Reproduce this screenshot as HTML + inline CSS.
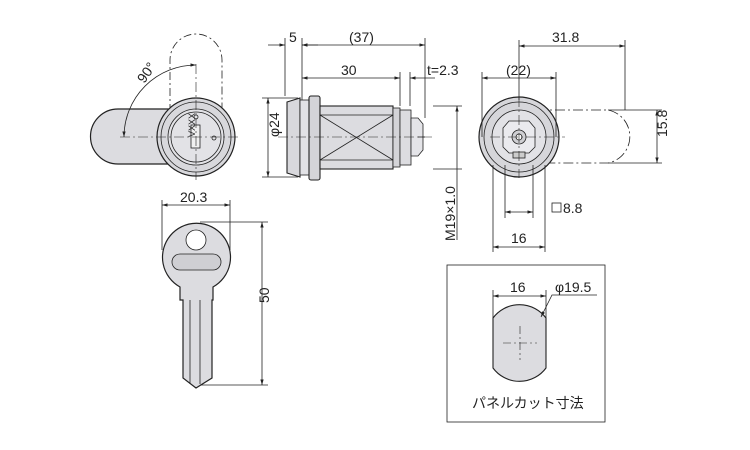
<!DOCTYPE html>
<html><head><meta charset="utf-8"><style>body{margin:0;background:#fff}svg{display:block}text{font-family:"Liberation Sans","Noto Sans CJK JP",sans-serif;fill:#222}</style></head><body>
<svg width="750" height="450" viewBox="0 0 750 450" xmlns="http://www.w3.org/2000/svg">
<defs>
<marker id="a" viewBox="0 0 10 10" refX="10" refY="5" markerWidth="7" markerHeight="7" orient="auto-start-reverse"><path d="M0,2 L10,5 L0,8z" fill="#222"/></marker>
</defs>
<g stroke="#222" fill="none" stroke-width="0.8">
<path d="M170,128 V60 A26,26 0 0 1 222,60 V128" stroke-dasharray="8,3,2,3"/>
<path d="M196,109 H118 A27.5,27.5 0 0 0 118,164 H196" fill="#dcdce0" stroke-width="1.2"/>
<circle cx="196" cy="137" r="39" fill="#d8d8dc" stroke-width="1.2"/>
<circle cx="196" cy="137" r="35"/>
<circle cx="196" cy="137" r="28" fill="#e2e2e6"/>
<circle cx="196" cy="137" r="25"/>
<rect x="191" y="125" width="9" height="23" fill="#f0f0f0"/>
<circle cx="196" cy="117" r="2"/><circle cx="214" cy="138" r="2"/>
<path d="M120,137 H240 M196,64 V180" stroke-dasharray="10,3,2,3" stroke-width="0.6"/>
<path d="M196,65 A72,72 0 0 0 124,137" marker-start="url(#a)" marker-end="url(#a)"/>
<path d="M287,102 L300,98 V177 L287,173 Z" fill="#d8d8dc" stroke-width="1.1"/>
<rect x="300" y="100" width="9" height="75" fill="#e2e2e6"/>
<rect x="309" y="96" width="11" height="84" rx="2" fill="#d4d4d8" stroke-width="1.1"/>
<rect x="320" y="106" width="73" height="63" fill="#dcdce0" stroke-width="1.1"/>
<path d="M320,115 H393 M320,160 H393 M320,115 L393,160 M320,160 L393,115"/>
<rect x="393" y="108" width="7" height="59" fill="#d4d4d8"/>
<rect x="400" y="110" width="11" height="55" fill="#dcdce0"/>
<path d="M411,118 H418 L423,124 V150 L418,156 H411 Z" fill="#e4e4e8"/>
<path d="M418,137 H425"/>
<path d="M278,137 H435" stroke-dasharray="10,3,2,3" stroke-width="0.6"/>
<path d="M285,96 V38 M302,96 V38 M425,118 V38 M400,106 V72 M410,106 V72 M433,106 H462 M433,169 H462 M298,98 H262 M298,177 H262 M302,78 V100"/>
<path d="M268,45 H285" marker-end="url(#a)"/><path d="M302,45 H318" marker-start="url(#a)"/>
<path d="M302,45 H425" marker-start="url(#a)" marker-end="url(#a)"/>
<path d="M302,78 H400" marker-start="url(#a)" marker-end="url(#a)"/>
<path d="M410,78 H435" marker-start="url(#a)"/>
<path d="M268,98 V177" marker-start="url(#a)" marker-end="url(#a)"/>
<path d="M457,106 V240" marker-start="url(#a)"/>
<path d="M519,110 H608 A27,27 0 0 1 608,163 H519" stroke-dasharray="10,3,2,3"/>
<circle cx="519" cy="137" r="40" fill="#d6d6da" stroke-width="1.2"/>
<circle cx="519" cy="137" r="35"/>
<circle cx="519" cy="137" r="27" fill="#e2e2e6"/>
<path d="M509,121 H529 L535,128 V147 L529,153 H509 L503,147 V128 Z" fill="#eaeaee"/>
<circle cx="519" cy="137" r="7" fill="#cfcfd3"/><circle cx="519" cy="137" r="3" fill="#fff"/>
<rect x="513" y="152" width="12" height="6" fill="#ccc"/>
<path d="M490,137 H565 M519,97 V178" stroke-dasharray="10,3,2,3" stroke-width="0.6"/>
<path d="M519,100 V40 M625,110 V40 M482,137 V72 M556,137 V72 M608,110 H662 M608,163 H662 M505,165 V218 M533,165 V218 M493,165 V252 M545,165 V252"/>
<path d="M519,46 H625" marker-start="url(#a)" marker-end="url(#a)"/>
<path d="M482,78 H556" marker-start="url(#a)" marker-end="url(#a)"/>
<path d="M657,110 V163" marker-start="url(#a)" marker-end="url(#a)"/>
<path d="M505,212 H533" marker-start="url(#a)" marker-end="url(#a)"/>
<path d="M493,247 H545" marker-start="url(#a)" marker-end="url(#a)"/>
<rect x="552" y="203" width="9" height="9"/>
<path d="M183,300 V378 L196,388 L212,378 V300 H213 V287 A34,34 0 1 0 180,287 V300 Z" fill="#dcdce0" stroke-width="1.2"/>
<circle cx="196" cy="240" r="10" fill="#fff"/>
<rect x="172" y="254" width="49" height="16" rx="8" fill="#cfcfd3"/>
<path d="M190,300 V384 M200,300 V384"/>
<path d="M162,250 V200 M230,250 V200 M200,222 H268 M200,385 H268"/>
<path d="M162,205 H230" marker-start="url(#a)" marker-end="url(#a)"/>
<path d="M262,222 V385" marker-start="url(#a)" marker-end="url(#a)"/>
<rect x="447" y="265" width="158" height="157"/>
<path d="M493,318 A33,33 0 0 1 546,318 V368 A33,33 0 0 1 493,368 Z" fill="#dcdce0" stroke-width="1.1"/>
<path d="M503,343 H537 M520,326 V360" stroke-dasharray="8,3,2,3" stroke-width="0.6"/>
<path d="M493,318 V290 M546,318 V290"/>
<path d="M493,296 H546" marker-start="url(#a)" marker-end="url(#a)"/>
<path d="M597,295 H552 L541,317" marker-end="url(#a)"/>
</g>
<g font-size="14">
<text x="138" y="82" transform="rotate(-55 143 77)">90°</text>
<text x="184" y="148" font-size="9" transform="rotate(-90 184 137)">VXXX</text>
<text x="289" y="42">5</text>
<text x="349" y="42">(37)</text>
<text x="341" y="75">30</text>
<text x="427" y="75">t=2.3</text>
<text x="265" y="151" transform="rotate(-90 265 137)">φ24</text>
<text x="455" y="241" transform="rotate(-90 455 241)">M19×1.0</text>
<text x="552" y="42">31.8</text>
<text x="506" y="75">(22)</text>
<text x="654" y="150" transform="rotate(-90 654 137)">15.8</text>
<text x="563" y="213">8.8</text>
<text x="511" y="243">16</text>
<text x="180" y="202">20.3</text>
<text x="260" y="312" transform="rotate(-90 260 303)">50</text>
<text x="510" y="292">16</text>
<text x="555" y="292">φ19.5</text>
<text x="472" y="408">パネルカット寸法</text>
</g>
</svg>
</body></html>
